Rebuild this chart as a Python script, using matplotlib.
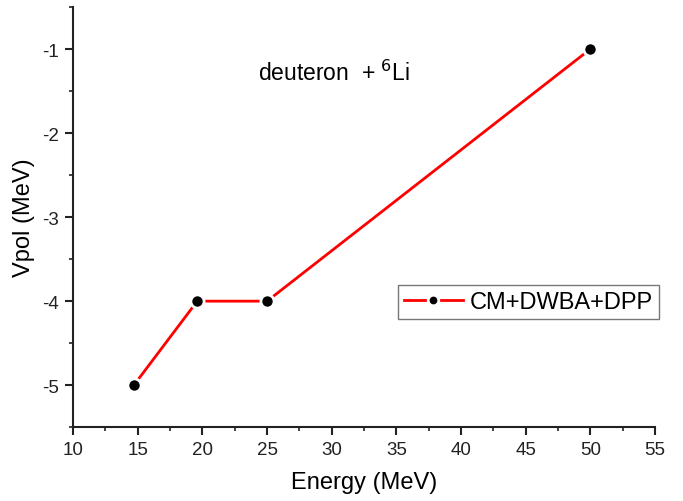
import matplotlib
matplotlib.use("Agg")
import matplotlib.pyplot as plt
from matplotlib.ticker import MultipleLocator

plt.rcParams['font.family'] = ['Liberation Sans', 'DejaVu Sans']
plt.rcParams['axes.unicode_minus'] = False

# data
energy = [14.7, 19.6, 25.0, 50.0]
vpol = [-5, -4, -4, -1]
series_label = 'CM+DWBA+DPP'

fig = plt.figure(figsize=(6.83, 5.02), dpi=100)
ax = fig.add_axes([0.107, 0.147, 0.852, 0.837])

ax.plot(energy, vpol, color='red', linewidth=2.0, marker='o', markersize=9.5,
        markerfacecolor='black', markeredgecolor='white', markeredgewidth=2.0,
        label=series_label)

ax.set_xlim(10, 55)
ax.set_ylim(-5.5, -0.5)
ax.xaxis.set_major_locator(MultipleLocator(5))
ax.xaxis.set_minor_locator(MultipleLocator(2.5))
ax.yaxis.set_major_locator(MultipleLocator(1))
ax.yaxis.set_minor_locator(MultipleLocator(0.5))

for side in ('top', 'right'):
    ax.spines[side].set_visible(False)
for side in ('left', 'bottom'):
    ax.spines[side].set_linewidth(1.5)
    ax.spines[side].set_color('#222222')

ax.tick_params(which='major', direction='out', length=6, width=1.5, labelsize=13.5, colors='#222222')
ax.tick_params(which='minor', direction='out', length=3, width=1.2, colors='#222222')
ax.tick_params(axis='x', pad=4)
ax.tick_params(axis='y', pad=4)

ax.set_xlabel('Energy (MeV)', fontsize=17, labelpad=9)
ax.set_ylabel('Vpol (MeV)', fontsize=17, labelpad=5)

ax.text(24.3, -1.28, r'deuteron  + $^{6}$Li', fontsize=16.5, va='center', ha='left')

leg = ax.legend(loc='upper left', bbox_to_anchor=(0.558, 0.338), fontsize=17,
                frameon=True, fancybox=False, handlelength=2.5, handletextpad=0.3,
                borderpad=0.25, borderaxespad=0, markerscale=0.8)
leg.get_frame().set_edgecolor('#555555')
leg.get_frame().set_linewidth(1.0)

fig.savefig('out.png', dpi=100)
